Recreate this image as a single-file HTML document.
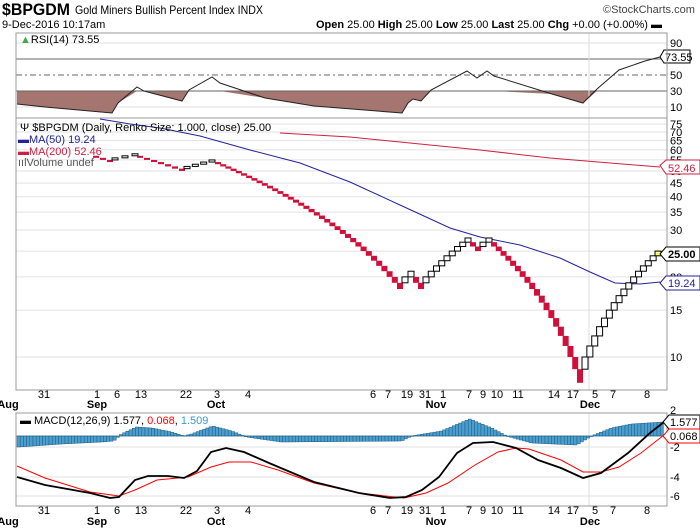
<!DOCTYPE html>
<html><head><meta charset="utf-8"><style>
body{margin:0;background:#fff;}
svg{display:block;font-family:"Liberation Sans",sans-serif;}
</style></head><body>
<svg id="s" width="700" height="530" xmlns="http://www.w3.org/2000/svg">
<rect width="700" height="530" fill="#fff"/>
<text x="2" y="15" font-size="17" font-weight="bold" textLength="68" lengthAdjust="spacingAndGlyphs">$BPGDM</text>
<text x="75" y="14" font-size="12" textLength="188" lengthAdjust="spacingAndGlyphs">Gold Miners Bullish Percent Index  INDX</text>
<text x="603" y="13" font-size="11" fill="#444">©StockCharts.com</text>
<text x="2" y="28" font-size="11">9-Dec-2016 10:17am</text>
<text x="316" y="28" font-size="11" textLength="346" lengthAdjust="spacingAndGlyphs"><tspan font-weight="bold">Open</tspan> 25.00  <tspan font-weight="bold">High</tspan> 25.00  <tspan font-weight="bold">Low</tspan> 25.00  <tspan font-weight="bold">Last</tspan> 25.00  <tspan font-weight="bold">Chg</tspan> +0.00 (+0.00%) ▬</text>
<g id="g"></g>
</svg>
<script>
const g=document.getElementById('g');let h='';
const L=16,R=667;
function ln(x1,y1,x2,y2,c,w,d){h+=`<line x1="${x1}" y1="${y1}" x2="${x2}" y2="${y2}" stroke="${c}" stroke-width="${w||1}" ${d?`stroke-dasharray="${d}"`:''}/>`;}
function tx(x,y,t,s,o){h+=`<text x="${x}" y="${y}" font-size="${s||11}" ${o||''}>${t}</text>`;}
function pl(p,c,w){h+=`<polyline fill="none" stroke="${c}" stroke-width="${w||1}" points="${p.map(a=>a.join(',')).join(' ')}"/>`;}
// RSI panel
const ry=v=>107-(v-10)*0.8;
[90,10].forEach(v=>ln(L,ry(v),R,ry(v),'#e2e2e2'));
[90,50,30,10].forEach(v=>tx(670,ry(v)+4,v,11));
const rp=[[17,104],[45,107],[112,113],[118,103],[137,87],[144,91],[182,101],[189,90],[212,77],[220,83],[265,98],[314,106],[402,113],[408,103],[413,99],[421,101],[431,90],[467,71],[477,78],[487,71],[494,76],[552,94],[583,103],[597,89],[619,70],[645,61],[660,57]];
let fp=[[17,91]];rp.forEach(p=>fp.push([p[0],Math.max(p[1],91)]));fp.push([660,91]);
h+=`<polygon points="${fp.map(a=>a.join(',')).join(' ')}" fill="#a57570"/>`;
ln(L,ry(70),R,ry(70),'#666');ln(L,ry(30),R,ry(30),'#666');ln(L,ry(50),R,ry(50),'#666',1,'6,3,2,3');
ln(589,33,589,118,'#ddd');
pl(rp,'#222',1);
h+=`<polygon points="660,57 664,50 690,50 690,63 664,63" fill="#fff" stroke="#000"/>`;tx(665,61,'73.55',11);
h+=`<rect x="${L}" y="33" width="${R-L}" height="85" fill="none" stroke="#999"/>`;
tx(20,43,'<tspan fill="#4a4">▲</tspan>RSI(14) 73.55',11);
// price panel
const py=v=>357-115.6*Math.log(v/10);
[75,70,65,60,55,50,45,40,35,30,25,20,15,10].forEach(v=>{ln(L,py(v),R,py(v),'#e2e2e2');tx(670,py(v)+4,v,11);});
ln(589,118,589,390,'#ddd');
pl([[100,119],[130,124],[160,128],[200,136],[250,150],[300,163],[350,182],[400,205],[450,228],[480,237],[520,245],[560,258],[590,272],[615,283],[640,284],[660,282]],'#22229a',1);
pl([[280,133],[350,137],[400,142],[480,150],[550,158],[610,163],[660,167]],'#d02040',1);
const segs=[['r',[56,55,54],96,110],['b',[55,56,57],115,135],['r',[56,50],140,182],['b',[51,54],187,212],['r',[53,18],218,400],['b',[19,20],405,411],['r',[19,18],416,421],['b',[19,27],426,468],['r',[26,25],473,478],['b',[26,27],483,489],['r',[26,8],494,580],['b',[9,24],585,658]];
segs.forEach(s=>{let arr=s[1];if(arr.length==2){let a=arr[0],b=arr[1],st=a<b?1:-1;arr=[];for(let v=a;v!=b+st;v+=st)arr.push(v);}
const n=arr.length;arr.forEach((b,i)=>{const x=n>1?s[2]+(s[3]-s[2])*i/(n-1):s[2];const y1=py(b+1),y2=py(b);
if(s[0]=='r')h+=`<rect x="${x-3}" y="${y1}" width="6" height="${y2-y1}" fill="#d0103a"/>`;
else h+=`<rect x="${x-3}" y="${y1}" width="6" height="${y2-y1}" fill="${(s[3]==658&&i==n-1)?'#ff6':'#fff'}" stroke="#000" stroke-width="1"/>`;});});
h+=`<rect x="${L}" y="118" width="${R-L}" height="272" fill="none" stroke="#999"/>`;
tx(20,131,'Ψ $BPGDM (Daily, Renko Size: 1.000, close) 25.00',11);
tx(18,143,'<tspan fill="#22229a">▬MA(50) 19.24</tspan>',11);
tx(18,155,'<tspan fill="#d02040">▬MA(200) 52.46</tspan>',11);
tx(18,166,'<tspan fill="#555">ıılVolume undef</tspan>',11);
h+=`<polygon points="660,${py(52.46)} 666,160 700,160 700,174 666,174" fill="#fff" stroke="#d02040"/>`;tx(668,172,'52.46',11,'fill="#d02040"');
h+=`<polygon points="660,254 666,247 700,247 700,261 666,261" fill="#fff" stroke="#000"/>`;tx(668,258,'25.00',11,'font-weight="bold"');
h+=`<polygon points="660,283 666,276 700,276 700,290 666,290" fill="#fff" stroke="#22229a"/>`;tx(668,287,'19.24',11,'fill="#22229a"');
const nums=[[44,'31'],[97,'1'],[117,'6'],[141,'13'],[186,'22'],[217,'3'],[248,'4'],[373,'6'],[388,'7'],[407,'19'],[425,'31'],[443,'1'],[469,'7'],[483,'9'],[497,'10'],[518,'11'],[554,'14'],[573,'17'],[595,'5'],[613,'7'],[647,'8']];
const mons=[[8,'Aug'],[97,'Sep'],[216,'Oct'],[436,'Nov'],[590,'Dec']];
[[398,408],[514,525]].forEach(([a,b])=>{nums.forEach(n=>tx(n[0],a,n[1],11,'text-anchor="middle"'));mons.forEach(m=>tx(m[0],b,m[1],11,'text-anchor="middle" font-weight="bold"'));});
// MACD panel
[447,477,496].forEach(y=>ln(L,y,R,y,'#e2e2e2'));
[[414,'2'],[451,'-2'],[481,'-4'],[500,'-6']].forEach(a=>tx(670,a[0],a[1],11));
ln(589,413,589,506,'#ddd');
const hp=[[17,447],[60,444],[100,442],[112,441],[120,434],[135,427],[150,428],[170,432],[182,436],[190,434],[211,426],[230,431],[245,437],[280,442],[400,441],[410,436],[440,431],[468,419],[490,428],[505,436],[530,443],[575,445],[590,436],[610,428],[630,424],[662,422]];
function itp(x){for(let i=0;i<hp.length-1;i++){if(x>=hp[i][0]&&x<=hp[i+1][0]){const t=(x-hp[i][0])/(hp[i+1][0]-hp[i][0]);return hp[i][1]+t*(hp[i+1][1]-hp[i][1]);}}return 436;}
for(let x=17;x<=662;x+=3.2){const y=itp(x);const t=Math.min(y,436),b=Math.max(y,436);h+=`<rect x="${x}" y="${t}" width="3.2" height="${Math.max(b-t,0.5)}" fill="#4a9fd0" stroke="#1d5a80" stroke-width="0.5"/>`;}
ln(L,436,R,436,'#1d5a80',0.5);
pl([[17,466],[45,478],[90,492],[119,496],[135,490],[157,480],[188,477],[211,467],[229,462],[251,462],[278,470],[314,483],[359,493],[404,498],[426,493],[448,483],[475,465],[498,452],[516,448],[529,449],[561,460],[583,472],[601,472],[619,467],[641,453],[664,435]],'#f00',1);
pl([[17,477],[45,485],[90,493],[110,498],[119,497],[135,480],[148,476],[168,476],[184,478],[197,471],[211,452],[226,448],[244,452],[269,463],[314,482],[359,493],[390,498],[406,497],[422,490],[439,477],[457,453],[473,443],[493,442],[516,448],[538,460],[561,468],[583,478],[601,473],[628,453],[650,433],[664,422]],'#000',1.8);
h+=`<rect x="${L}" y="413" width="${R-L}" height="93" fill="none" stroke="#999"/>`;
tx(20,424,'▬ MACD(12,26,9) 1.577, <tspan fill="#f00">0.068</tspan>, <tspan fill="#3a9ad0">1.509</tspan>',11);
h+=`<polygon points="663,422 669,415 700,415 700,429 669,429" fill="#fff" stroke="#000"/>`;tx(670,426,'1.577',11);
h+=`<polygon points="663,436 669,429 700,429 700,443 669,443" fill="#fff" stroke="#f00"/>`;tx(670,440,'0.068',11);
g.innerHTML=h;
</script>
</body></html>
